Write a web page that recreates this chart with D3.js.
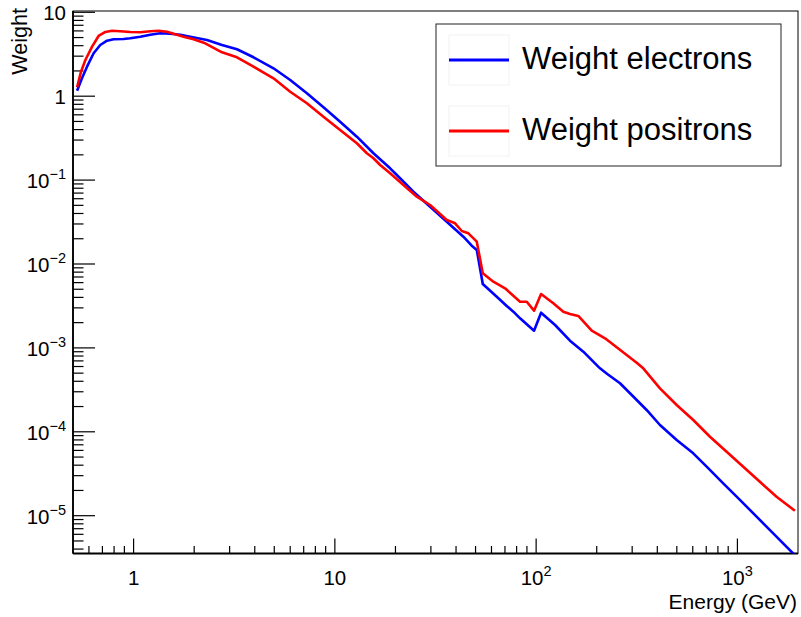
<!DOCTYPE html>
<html><head><meta charset="utf-8">
<script src="https://cdn.jsdelivr.net/npm/d3@7"></script>
<style>
html,body{margin:0;padding:0;background:#fff;}
svg{display:block;font-family:"Liberation Sans",Arial,Helvetica,sans-serif;}
</style></head>
<body><svg id="c" width="801" height="617"></svg>
<script>
// ---- data ----
const seriesNames = ["Weight electrons", "Weight positrons"];
const electronE = [0.524,0.554,0.587,0.633,0.683,0.738,0.796,0.892,0.963,1.080,1.210,1.357,1.521,1.706,1.912,2.315,2.748,3.263,3.943,4.956,6.000,7.261,8.777,10.62,12.86,15.55,18.82,20.32,24.56,29.73,35.98,43.50,47.87,50.71,54.31,63.74,71.45,77.08,83.21,97.63,105.8,124.2,147.3,171.6,207.6,225.7,261.0,292.6,354.0,412.3,499.2,603.4,703.5,850.2,1029,1245,1506,1950];
const electronW = [1.163,1.634,2.247,3.245,4.076,4.586,4.766,4.806,4.899,5.119,5.408,5.620,5.559,5.408,5.119,4.675,4.076,3.622,2.909,2.150,1.560,1.083,0.7375,0.4966,0.3292,0.2087,0.1382,0.1150,0.07272,0.04819,0.03192,0.02115,0.01652,0.01469,0.005776,0.004075,0.003157,0.002701,0.002253,0.001603,0.002628,0.001875,0.001219,0.000901,0.000571,0.000489,0.000379,0.000288,0.000182,0.0001205,7.99e-5,5.54e-5,3.84e-5,2.43e-5,1.543e-5,9.75e-6,6.17e-6,3.3e-6];
const positronE = [0.524,0.548,0.576,0.622,0.670,0.724,0.781,0.859,0.963,1.080,1.210,1.331,1.465,1.611,1.771,1.986,2.270,2.748,3.263,3.943,4.956,6.000,7.261,8.777,10.62,12.86,14.42,15.55,16.79,18.82,21.91,25.54,29.73,35.98,39.57,42.72,46.07,50.71,54.31,61.31,70.08,83.21,89.82,97.63,105.8,121.7,136.5,147.3,162.0,188.9,219.9,251.3,315.9,340.6,412.3,499.2,603.4,730.5,884.1,1069,1293,1565,1930];
const positronW = [1.277,1.959,2.701,3.890,5.219,5.823,6.035,5.935,5.823,5.775,5.935,6.035,5.871,5.468,5.119,4.766,4.271,3.337,2.909,2.247,1.634,1.131,0.8229,0.5697,0.3956,0.2746,0.2087,0.1819,0.1514,0.1205,0.08739,0.06340,0.05047,0.03344,0.03055,0.02473,0.02322,0.01844,0.007748,0.006152,0.005134,0.003553,0.003553,0.002776,0.004389,0.003401,0.002701,0.002535,0.002400,0.001603,0.001302,0.001017,0.000666,0.000571,0.00033,0.0002087,0.0001382,8.74e-5,5.79e-5,3.84e-5,2.54e-5,1.684e-5,1.147e-5];
const seriesColors = ["#0000ff", "#ff0000"];
const xMajorTicks = [1, 10, 100, 1000];
const xTickLabels = [["1",""],["10",""],["10","2"],["10","3"]];
const yMajorTicks = [1e-5,1e-4,1e-3,1e-2,1e-1,1,10];
const yTickLabels = [["10","\u22125"],["10","\u22124"],["10","\u22123"],["10","\u22122"],["10","\u22121"],["1",""],["10",""]];
const xTitle = "Energy (GeV)";
const yTitle = "Weight";

// ---- layout ----
const L = 73, R = 798, T = 11, B = 553.5;
const svg = d3.select("#c");
const x = d3.scaleLog().domain([0.5, 2000]).range([L, R]);
const y = d3.scaleLog().domain([3.544e-6, 10.36]).range([B, T]);

svg.append("defs").append("clipPath").attr("id","clip")
  .append("rect").attr("x",L).attr("y",T).attr("width",R-L).attr("height",B-T);

svg.append("rect").attr("x",L).attr("y",T).attr("width",R-L).attr("height",B-T)
  .attr("fill","none").attr("stroke","#000").attr("stroke-width",1);

function minors(domain){
  const out=[];
  const lo=Math.floor(Math.log10(domain[0])), hi=Math.ceil(Math.log10(domain[1]));
  for(let e=lo;e<=hi;e++) for(let m=2;m<=9;m++){const v=m*Math.pow(10,e); if(v>domain[0]&&v<domain[1]) out.push(v);}
  return out;
}
const ax = svg.append("g").attr("stroke","#000").attr("stroke-width",1.2);
minors(x.domain()).forEach(v=>{ax.append("line").attr("x1",x(v)).attr("x2",x(v)).attr("y1",B).attr("y2",B-7.5);});
xMajorTicks.forEach(v=>{ax.append("line").attr("x1",x(v)).attr("x2",x(v)).attr("y1",B).attr("y2",B-15);});
minors(y.domain()).forEach(v=>{ax.append("line").attr("x1",L).attr("x2",L+10.5).attr("y1",y(v)).attr("y2",y(v));});
yMajorTicks.forEach(v=>{ax.append("line").attr("x1",L).attr("x2",L+22).attr("y1",y(v)).attr("y2",y(v));});
svg.append("line").attr("x1",L).attr("x2",L).attr("y1",T).attr("y2",B).attr("stroke","#000").attr("stroke-width",1.8);
svg.append("line").attr("x1",L).attr("x2",R).attr("y1",B).attr("y2",B).attr("stroke","#000").attr("stroke-width",1.8);

xMajorTicks.forEach((v,i)=>{
  const t = svg.append("text").attr("x",x(v)).attr("y",585).attr("text-anchor","middle")
    .attr("font-size",20.5).attr("fill","#000");
  t.append("tspan").text(xTickLabels[i][0]);
  if(xTickLabels[i][1]) t.append("tspan").attr("dy",-9).attr("font-size",14.5).text(xTickLabels[i][1]);
});
yMajorTicks.forEach((v,i)=>{
  const t = svg.append("text").attr("x",66).attr("y",y(v)+8).attr("text-anchor","end")
    .attr("font-size",20.5).attr("fill","#000");
  t.append("tspan").text(yTickLabels[i][0]);
  if(yTickLabels[i][1]) t.append("tspan").attr("dy",-9).attr("font-size",14.5).text(yTickLabels[i][1]);
});
svg.append("text").attr("x",797).attr("y",609).attr("text-anchor","end").attr("font-size",21).text(xTitle);
svg.append("text").attr("transform","translate(27,8) rotate(-90)").attr("text-anchor","end").attr("font-size",21.6).text(yTitle);

const line = d3.line().x(d=>x(d[0])).y(d=>y(d[1]));
const series = [d3.zip(electronE, electronW), d3.zip(positronE, positronW)];
const plot = svg.append("g").attr("clip-path","url(#clip)");
series.forEach((s,i)=>{
  plot.append("path").datum(s).attr("d",line).attr("fill","none")
    .attr("stroke",seriesColors[i]).attr("stroke-width",2.6).attr("stroke-linejoin","round");
});

const lg = svg.append("g");
lg.append("rect").attr("x",436).attr("y",24).attr("width",345).attr("height",142)
  .attr("fill","#fff").attr("stroke","#222").attr("stroke-width",1);
seriesNames.forEach((n,i)=>{
  const cy = 60 + i*71;
  lg.append("rect").attr("x",449).attr("y",cy-25).attr("width",60).attr("height",50)
    .attr("fill","none").attr("stroke","#f2f2f2").attr("stroke-width",1);
  lg.append("line").attr("x1",449).attr("x2",509).attr("y1",cy).attr("y2",cy)
    .attr("stroke",seriesColors[i]).attr("stroke-width",3);
  lg.append("text").attr("x",522).attr("y",cy+9).attr("font-size",31).attr("fill","#000").text(n);
});
</script></body></html>
